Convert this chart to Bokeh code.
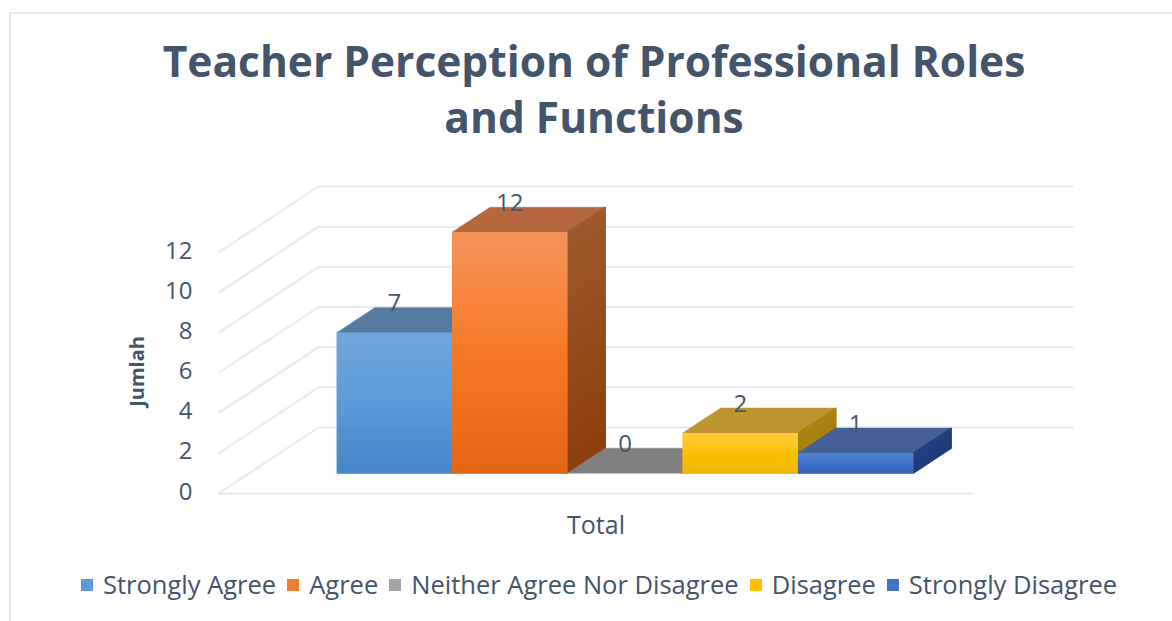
from bokeh.plotting import figure
from bokeh.embed import file_html
from bokeh.resources import INLINE
from bokeh.models import (Range1d, FixedTicker, Label, Legend, LegendItem, LinearAxis)
from bokeh.core.properties import value as val

TITLE_LINES = ["Teacher Perception of Professional Roles", "and Functions"]
CATEGORIES = ["Strongly Agree", "Agree", "Neither Agree Nor Disagree", "Disagree", "Strongly Disagree"]
VALUES = [7, 12, 0, 2, 1]
Y_TICKS = [0, 2, 4, 6, 8, 10, 12]
X_LABEL = "Total"
Y_LABEL = "Jumlah"

TEXT = "#44546A"
GRID = "#E6E9F0"
FONT = "Open Sans"
SWATCH = ["#5B9BD5", "#ED7D31", "#A5A5A5", "#FFC000", "#4472C4"]
FRONT_TOP = ["#70A5DC", "#F5925A", "#A5A5A5", "#FFCB3C", "#5080D0"]
FRONT_MID = ["#5B9BD9", "#F67A24", "#A5A5A5", "#FFC000", "#3E6FC6"]
FRONT_BOT = ["#4585C8", "#E36614", "#A5A5A5", "#EDB400", "#3263BC"]
SIDE_TOP = ["#2F5F90", "#9E5A2E", "#707070", "#A88412", "#24407F"]
SIDE_BOT = ["#2A5A8A", "#8C3F0C", "#707070", "#A07C08", "#1D3A78"]
TOP_FACE = ["#567BA2", "#B5673F", "#808080", "#BE9630", "#446097"]

W, H = 1172, 621
ORIGIN_X, ORIGIN_Y = 218, 493   # where the front axes meet on the page
PX_X = 1 / 755     # data x per pixel
PX_Y = 1 / 20.08   # data y per pixel
WALL_DX, WALL_DY = 100 * PX_X, 66 * PX_Y
BAR_W = 115.3 * PX_X
BAR_DX, BAR_DY = 38 * PX_X, 25 * PX_Y
SHIFT_X, SHIFT_Y = 29 * PX_X, 20.3 * PX_Y


def fx(px):
    return -0.5 + (px - ORIGIN_X) * PX_X


def fy(py):
    return (ORIGIN_Y - py) * PX_Y


def hexrgb(c):
    return [int(c[i:i + 2], 16) for i in (1, 3, 5)]


def mix(a, b, t):
    ra, rb = hexrgb(a), hexrgb(b)
    return "#%02X%02X%02X" % tuple(round(x + (y - x) * t) for x, y in zip(ra, rb))


p = figure(width=W, height=H, output_backend="svg", toolbar_location=None,
           x_range=Range1d(fx(0), fx(W)), y_range=Range1d(fy(H), fy(0)),
           x_axis_location=None, y_axis_location=None, min_border=0)
p.outline_line_color = None
p.xgrid.visible = False
p.ygrid.visible = False
p.extra_y_ranges = {"ticks": Range1d(fy(H + 2.5), fy(2.5))}

# chart border
p.line([fx(9.5), fx(9.5), fx(W)], [fy(H), fy(12.5), fy(12.5)], line_color=GRID, line_width=2)

# walls
x0, x1 = -0.5, 0.5
p.multi_line([[x0, x0 + WALL_DX, x1 + WALL_DX] for _ in Y_TICKS],
             [[t, t + WALL_DY, t + WALL_DY] for t in Y_TICKS], line_color=GRID, line_width=2)
p.line([x0, x1], [0, 0], line_color=GRID, line_width=2)

# axes
ya = LinearAxis(fixed_location=x0, y_range_name="ticks", ticker=FixedTicker(ticks=Y_TICKS))
ya.axis_line_color = None
ya.major_tick_line_color = None
ya.minor_tick_line_color = None
ya.major_label_standoff = 20
ya.major_label_text_font = FONT
ya.major_label_text_font_size = "24px"
ya.major_label_text_color = TEXT
p.add_layout(ya, "left")

xa = LinearAxis(fixed_location=0, ticker=FixedTicker(ticks=[0]), major_label_overrides={0: X_LABEL})
xa.axis_line_color = None
xa.major_tick_line_color = None
xa.minor_tick_line_color = None
xa.major_label_standoff = 7
xa.major_label_text_font = FONT
xa.major_label_text_font_size = "25px"
xa.major_label_text_color = TEXT
p.add_layout(xa, "below")

# bars
items = []
n_bars = len(VALUES)
for i, (cat, v) in enumerate(zip(CATEGORIES, VALUES)):
    l = SHIFT_X + (i - n_bars / 2) * BAR_W
    r = l + BAR_W
    b = SHIFT_Y
    t = b + v
    p.patch([l, l + BAR_DX, r + BAR_DX, r], [t, t + BAR_DY, t + BAR_DY, t],
            fill_color=TOP_FACE[i], line_color=TOP_FACE[i], line_width=0.5)
    n = max(1, v * 8)
    xs, ys, cs = [], [], []
    for k in range(n):
        y_hi = t - v * k / n
        y_lo = t - v * (k + 1) / n
        xs.append([r, r + BAR_DX, r + BAR_DX, r])
        ys.append([y_lo, y_lo + BAR_DY, y_hi + BAR_DY, y_hi])
        cs.append(mix(SIDE_TOP[i], SIDE_BOT[i], k / n))
    p.patches(xs, ys, fill_color=cs, line_color=cs, line_width=1.2)
    base = p.quad(left=[l], right=[r], bottom=[b], top=[t], fill_color=SWATCH[i], line_color=None)
    if v > 0:
        lefts, rights, tops, bots, cols = [], [], [], [], []
        for k in range(n):
            f = k / n
            c = mix(FRONT_TOP[i], FRONT_MID[i], f * 2) if f < 0.5 else mix(FRONT_MID[i], FRONT_BOT[i], f * 2 - 1)
            lefts.append(l)
            rights.append(r)
            tops.append(t - v * k / n)
            bots.append(t - v * (k + 1) / n - 0.03)
            cols.append(c)
        lefts.reverse(); rights.reverse(); tops.reverse(); bots.reverse(); cols.reverse()
        p.quad(left=lefts, right=rights, top=tops, bottom=bots, fill_color=cols, line_color=None)
    items.append(LegendItem(label=cat, renderers=[base]))

# data labels
p.text(x=[SHIFT_X + (i - n_bars / 2 + 0.5) * BAR_W for i in range(n_bars)],
       y=[SHIFT_Y + v + 30 * PX_Y for v in VALUES],
       text=[str(v) for v in VALUES], text_font=val(FONT), text_font_size="24px",
       text_color=TEXT, text_align="center", text_baseline="middle")

# legend
legend = Legend(items=items, orientation="horizontal", location=(79, 20), background_fill_alpha=0,
                border_line_color=None, glyph_width=15, glyph_height=15, label_standoff=9, spacing=9,
                padding=0, margin=0, label_text_font=FONT, label_text_font_size="25.5px", label_text_color=TEXT)
p.add_layout(legend, "center")

# title and y label
for txt, py in zip(TITLE_LINES, [60, 115.5]):
    p.add_layout(Label(x=fx(593.5), y=fy(py), text=txt, text_font=FONT,
                       text_font_size="42.5px", text_font_style="bold", text_color=TEXT,
                       text_align="center", text_baseline="middle"))
p.add_layout(Label(x=fx(136), y=fy(371), text=Y_LABEL, text_font=FONT,
                   text_font_size="20px", text_font_style="bold", text_color=TEXT, angle=90, angle_units="deg",
                   text_align="center", text_baseline="middle"))

open("out.html", "w").write(file_html(p, INLINE))
